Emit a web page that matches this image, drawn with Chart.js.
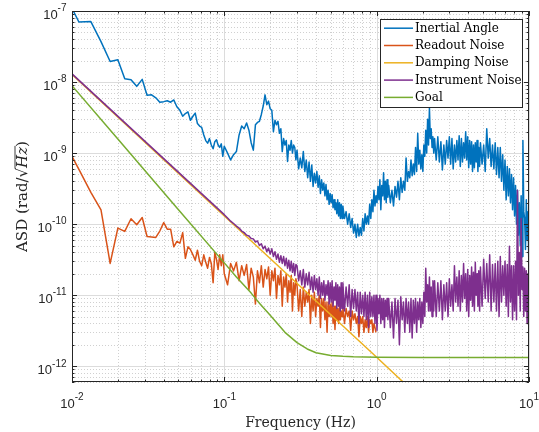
<!DOCTYPE html>
<html>
<head>
<meta charset="utf-8">
<script src="https://cdn.jsdelivr.net/npm/chart.js@4.4.1/dist/chart.umd.min.js"></script>
<style>
  html, body { margin: 0; padding: 0; background: #fff; }
</style>
</head>
<body>
<canvas id="cnv" width="539" height="432"></canvas>
<script>
const NANO = 1e-9
const PICO = 1e-12

// frequency bins (Hz) shared by the three measured spectra
const freq = [
  // below 0.1 Hz
  0.00888, 0.0111, 0.0133, 0.0155, 0.0178, 0.0200, 0.0222, 0.0244, 0.0266, 0.0289,
  0.0311, 0.0333, 0.0355, 0.0377, 0.0400, 0.0422, 0.0444, 0.0466, 0.0488, 0.0511,
  0.0533, 0.0555, 0.0577, 0.0599, 0.0622, 0.0644, 0.0666, 0.0688, 0.0710, 0.0733,
  0.0755, 0.0777, 0.0799, 0.0821, 0.0844, 0.0866, 0.0888, 0.0910, 0.0932, 0.0955,
  0.0977, 0.0999,
  // 0.1 - 0.3 Hz
  0.105, 0.110, 0.115, 0.120, 0.125, 0.130, 0.135, 0.140, 0.145, 0.150,
  0.155, 0.160, 0.165, 0.170, 0.175, 0.180, 0.185, 0.190, 0.195, 0.200,
  0.205, 0.210, 0.215, 0.220, 0.225, 0.230, 0.235, 0.240, 0.245, 0.250,
  0.255, 0.260, 0.265, 0.270, 0.275, 0.280, 0.285, 0.290, 0.295,
  // 0.3 - 0.6 Hz
  0.3000, 0.3075, 0.3150, 0.3225, 0.3300, 0.3375, 0.3450, 0.3525, 0.3600, 0.3675,
  0.3750, 0.3825, 0.3900, 0.3975, 0.4050, 0.4125, 0.4200, 0.4275, 0.4350, 0.4425,
  0.4500, 0.4575, 0.4650, 0.4725, 0.4800, 0.4875, 0.4950, 0.5025, 0.5100, 0.5175,
  0.5250, 0.5325, 0.5400, 0.5475, 0.5550, 0.5625, 0.5700, 0.5775, 0.5850, 0.5925,
  // 0.6 - 1.2 Hz
  0.600, 0.615, 0.630, 0.645, 0.660, 0.675, 0.690, 0.705, 0.720, 0.735,
  0.750, 0.765, 0.780, 0.795, 0.810, 0.825, 0.840, 0.855, 0.870, 0.885,
  0.900, 0.915, 0.930, 0.945, 0.960, 0.975, 0.990, 1.005, 1.020, 1.035,
  1.050, 1.065, 1.080, 1.095, 1.110, 1.125, 1.140, 1.155, 1.170, 1.185,
  // 1.2 - 2.4 Hz
  1.20, 1.23, 1.26, 1.29, 1.32, 1.35, 1.38, 1.41, 1.44, 1.47,
  1.50, 1.53, 1.56, 1.59, 1.62, 1.65, 1.68, 1.71, 1.74, 1.77,
  1.80, 1.83, 1.86, 1.89, 1.92, 1.95, 1.98, 2.01, 2.04, 2.07,
  2.10, 2.13, 2.16, 2.19, 2.22, 2.25, 2.28, 2.31, 2.34, 2.37,
  // 2.4 - 4.8 Hz
  2.40, 2.46, 2.52, 2.58, 2.64, 2.70, 2.76, 2.82, 2.88, 2.94,
  3.00, 3.06, 3.12, 3.18, 3.24, 3.30, 3.36, 3.42, 3.48, 3.54,
  3.60, 3.66, 3.72, 3.78, 3.84, 3.90, 3.96, 4.02, 4.08, 4.14,
  4.20, 4.26, 4.32, 4.38, 4.44, 4.50, 4.56, 4.62, 4.68, 4.74,
  // 4.8 - 10 Hz
  4.80, 4.92, 5.04, 5.16, 5.28, 5.40, 5.52, 5.64, 5.76, 5.88,
  6.00, 6.12, 6.24, 6.36, 6.48, 6.60, 6.72, 6.84, 6.96, 7.08,
  7.20, 7.32, 7.44, 7.56, 7.68, 7.80, 7.92, 8.04, 8.16, 8.28,
  8.40, 8.52, 8.64, 8.76, 8.88, 9.00, 9.12, 9.24, 9.36, 9.48,
  9.60, 9.72, 9.84, 9.96, 10.08
]

// nrad/sqrt(Hz)
const inertialAngle = [
  180, 70, 71, 37, 19.5, 20.6, 11.1, 10.8, 8.7, 10.9,
  6.5, 6.6, 6.0, 5.2, 5.3, 5.45, 5.2, 5.6, 4.5, 4.0,
  3.3, 3.6, 3.8, 2.9, 3.3, 3.65, 2.6, 2.4, 2.3, 1.8,
  1.5, 1.38, 1.6, 1.3, 1.15, 1.45, 1.54, 1.3, 1.2, 1.35,
  0.9, 1.25,

  1.0, 0.8, 0.95, 1.05, 1.8, 2.4, 2.2, 2.65, 2.1, 1.4,
  1.1, 2.5, 2.7, 2.8, 3.5, 4.6, 6.6, 4.8, 5.4, 4.2,
  4.0, 2.0, 2.9, 2.5, 2.8, 1.9, 2.2, 1.05, 1.6, 1.3,
  1.5, 0.76, 1.3, 1.1, 1.5, 1.0, 1.3, 1.2, 0.8,

  1.10, 0.60, 0.85, 0.62, 1.05, 0.55, 0.80, 0.45, 0.75, 0.40,
  0.68, 0.34, 0.52, 0.38, 0.55, 0.33, 0.48, 0.27, 0.42, 0.30,
  0.38, 0.25, 0.36, 0.22, 0.30, 0.19, 0.27, 0.20, 0.26, 0.17,
  0.22, 0.16, 0.20, 0.14, 0.22, 0.13, 0.20, 0.12, 0.19, 0.12,

  0.18, 0.12, 0.15, 0.10, 0.14, 0.09, 0.12, 0.075, 0.10, 0.065,
  0.10, 0.068, 0.09, 0.07, 0.12, 0.08, 0.14, 0.10, 0.13, 0.10,
  0.19, 0.12, 0.22, 0.15, 0.30, 0.18, 0.25, 0.20, 0.34, 0.22,
  0.42, 0.16, 0.35, 0.25, 0.53, 0.22, 0.40, 0.20, 0.42, 0.24,

  0.35, 0.20, 0.30, 0.18, 0.34, 0.24, 0.40, 0.22, 0.45, 0.28,
  0.40, 0.30, 0.85, 0.40, 0.55, 0.45, 0.80, 0.48, 0.70, 0.50,
  1.20, 0.55, 1.90, 0.70, 1.10, 0.60, 0.95, 0.55, 1.30, 0.90,
  2.10, 1.00, 3.00, 1.30, 4.30, 1.60, 2.20, 1.20, 1.70, 1.00,

  1.60, 0.80, 1.70, 0.75, 1.45, 0.58, 1.30, 0.70, 1.50, 0.85,
  1.70, 0.70, 1.60, 0.60, 1.30, 0.75, 1.50, 0.80, 1.75, 0.65,
  1.60, 0.75, 1.40, 0.85, 2.00, 0.80, 1.70, 0.62, 1.50, 0.70,
  1.45, 0.55, 1.30, 0.62, 1.40, 0.75, 1.50, 0.55, 1.20, 0.65,

  1.40, 0.70, 1.30, 0.55, 2.20, 0.85, 1.60, 0.65, 1.30, 0.60,
  1.40, 0.50, 1.20, 0.45, 1.20, 0.40, 0.95, 0.30, 0.80, 0.22,
  0.65, 0.25, 0.60, 0.20, 0.50, 0.16, 0.45, 0.13, 0.35, 0.10,
  0.30, 0.07, 0.20, 0.05, 0.25, 0.035, 1.50, 0.15, 0.12, 0.044,
  0.22, 0.06, 0.15, 0.034, 0.10
]

// prad/sqrt(Hz); hidden under the instrument noise above ~1 Hz
const readoutNoise = [
  1450, 590, 280, 159, 28, 88, 79, 119, 98, 124,
  67, 66, 65, 80, 105, 85, 85, 48, 57, 54,
  76, 33, 48, 44, 37, 31, 43, 30, 26, 37,
  29, 24, 34, 28, 15, 40, 32, 23, 37, 26,
  37, 20,

  14, 28, 22, 29, 16, 26, 19, 27, 12, 24,
  18, 7.5, 22, 15, 26, 13, 23, 17, 25, 10,
  22, 16, 24, 9, 19, 14, 22, 7, 18, 13,
  20, 8, 16, 11, 19, 6, 15, 10, 17,

  14, 6, 12, 5, 13, 7, 11, 8, 12, 4,
  10, 6, 11, 5, 9, 7, 10, 3.5, 9, 6,
  9, 4.5, 8, 3, 8, 5, 7.5, 5, 8, 4,
  7, 3.3, 7, 4.5, 6.5, 4, 7, 4.5, 6, 5,

  7, 4, 6.5, 5, 6, 3.2, 6, 4.5, 5.5, 4,
  5, 2.6, 5, 4, 5, 3, 4.5, 3.5, 5, 3,
  4.5, 4, 4.5, 3, 4, 3.5, 3
]

// prad/sqrt(Hz); a straight power law below 0.1 Hz
const instrumentNoise = [
  16500, null, null, null, null, null, null, null, null, null,
  null, null, null, null, null, null, null, null, null, null,
  null, null, null, null, null, null, null, null, null, null,
  null, null, null, null, null, null, null, null, null, null,
  null, 136,

  122, 110, 102, 94, 88, 80, 76, 70, 68, 63,
  62, 56, 58, 50, 53, 45, 49, 41, 46, 38,
  45, 35, 41, 32, 38, 29, 36, 28, 35, 26,
  33, 24, 31, 22, 30, 21, 28, 19, 27,

  26, 16, 22, 14, 23, 13, 20, 14, 21, 12,
  18, 11, 19, 12, 17, 10, 18, 9, 15, 10,
  16, 8.5, 14, 10, 16, 7.5, 15, 8, 16, 7,
  13, 8.5, 15, 6.5, 14, 7, 13, 6, 15, 6.5,

  15, 6, 13, 7, 14, 5, 12, 6.5, 12, 6,
  11, 4, 11, 5.5, 10, 5, 11, 4.5, 10, 3.5,
  11, 5, 9.5, 5, 10, 4, 10, 3.2, 9, 5.5,
  10, 4, 9, 4.5, 9, 3.5, 8.5, 5, 9, 4.5,

  9, 3.5, 8, 2.5, 9, 4, 8.5, 2.0, 9.5, 4.5,
  8, 3, 9, 4, 8, 3, 9, 2.5, 8.5, 4,
  9, 3, 8, 4.5, 9, 3.5, 8, 4, 11, 5,
  24, 8, 14, 6, 18, 6, 13, 5, 16, 6,

  16, 5, 15, 6, 16, 4.5, 14, 6, 15, 5,
  17, 7, 14, 6, 26, 8, 18, 7, 22, 6,
  19, 8, 28, 9, 20, 6, 23, 5, 19, 8.5,
  25, 7, 21, 6, 29, 10, 20, 7, 22, 6,

  25, 7, 32, 9, 28, 8, 37, 6, 27, 8,
  28, 6, 30, 5, 35, 8, 26, 10, 30, 7,
  27, 5, 49, 8, 26, 4.5, 26, 6, 30, 4.5,
  300, 10, 40, 6, 120, 12, 25, 5, 24, 6,
  22, 4, 20, 8, 12
]

// prad/sqrt(Hz)
const dampingFreq = [0.01, 0.1, 1, 1.6]
const dampingNoise = [12800, 130, 1.34, 0.52]

const goalFreq = [0.01, 0.02, 0.05, 0.1, 0.12, 0.15, 0.17, 0.2, 0.25, 0.3, 0.35, 0.4, 0.5, 0.6, 0.7, 1, 2, 10]
const goal = [8900, 1580, 160, 28.5, 18, 10.7, 7.7, 5.2, 3.0, 2.15, 1.75, 1.55, 1.42, 1.38, 1.36, 1.34, 1.33, 1.33]

const xTicks = [0.01, 0.1, 1, 10]
const xTickExp = ['-2', '-1', '0', '1']
const yTicks = [1e-12, 1e-11, 1e-10, 1e-9, 1e-8, 1e-7]
const yTickExp = ['-12', '-11', '-10', '-9', '-8', '-7']

const ink = '#262626'
const tickFont = '13px "Liberation Sans", Arial, sans-serif'
const expFont = '10px "Liberation Sans", Arial, sans-serif'
const texFont = '"DejaVu Serif", serif'

const pts = (xs, ys, unit) => xs.map((x, i) => ({ x, y: ys[i] == null ? null : ys[i] * unit })).filter(p => p.y != null)

// 1..9 x 10^n positions inside a log range, for grid lines and tick marks
const logSteps = (min, max) => {
  const out = []
  for (let e = Math.floor(Math.log10(min)); e <= Math.ceil(Math.log10(max)); e++) {
    for (let m = 1; m <= 9; m++) {
      const v = m * Math.pow(10, e)
      if (v >= min * 0.999 && v <= max * 1.001) out.push({ v, major: m === 1 })
    }
  }
  return out
}

const gridPlugin = {
  id: 'matlabGrid',
  beforeDatasetsDraw (chart) {
    const { ctx, chartArea: a, scales: { x, y } } = chart
    const xs = logSteps(x.min, x.max)
    const ys = logSteps(y.min, y.max)
    const lines = (major) => {
      ctx.beginPath()
      xs.filter(t => t.major === major).forEach(t => {
        const p = Math.round(x.getPixelForValue(t.v)) + 0.5
        ctx.moveTo(p, a.top); ctx.lineTo(p, a.bottom)
      })
      ys.filter(t => t.major === major).forEach(t => {
        const p = Math.round(y.getPixelForValue(t.v)) + 0.5
        ctx.moveTo(a.left, p); ctx.lineTo(a.right, p)
      })
      ctx.stroke()
    }
    ctx.save()
    ctx.lineWidth = 1
    ctx.strokeStyle = '#d0d0d0'
    ctx.setLineDash([1, 2])
    lines(false)
    ctx.setLineDash([])
    ctx.strokeStyle = '#dcdcdc'
    lines(true)
    ctx.restore()
  }
}

function drawPow (ctx, exp, x, y, align) {
  ctx.font = tickFont
  const wb = ctx.measureText('10').width
  ctx.font = expFont
  const we = ctx.measureText(exp).width
  const left = align === 'center' ? x - (wb + we) / 2 : x - wb - we
  ctx.font = tickFont
  ctx.fillText('10', left, y)
  ctx.font = expFont
  ctx.fillText(exp, left + wb, y - 7.5)
}

const framePlugin = {
  id: 'matlabFrame',
  afterDatasetsDraw (chart) {
    const { ctx, chartArea: a, scales: { x, y } } = chart
    ctx.save()
    // box and inward ticks on all four sides
    ctx.strokeStyle = ink
    ctx.lineWidth = 1
    ctx.beginPath()
    logSteps(x.min, x.max).forEach(t => {
      const p = Math.round(x.getPixelForValue(t.v)) + 0.5
      const len = t.major ? 5 : 2.5
      ctx.moveTo(p, a.bottom); ctx.lineTo(p, a.bottom - len)
      ctx.moveTo(p, a.top); ctx.lineTo(p, a.top + len)
    })
    logSteps(y.min, y.max).forEach(t => {
      const p = Math.round(y.getPixelForValue(t.v)) + 0.5
      const len = t.major ? 5 : 2.5
      ctx.moveTo(a.left, p); ctx.lineTo(a.left + len, p)
      ctx.moveTo(a.right, p); ctx.lineTo(a.right - len, p)
    })
    ctx.stroke()
    ctx.strokeRect(Math.round(a.left) + 0.5, Math.round(a.top) + 0.5,
      Math.round(a.right - a.left) - 1, Math.round(a.bottom - a.top) - 1)

    // tick labels
    ctx.fillStyle = ink
    ctx.textBaseline = 'alphabetic'
    ctx.textAlign = 'left'
    xTicks.forEach((v, i) => drawPow(ctx, xTickExp[i], x.getPixelForValue(v), a.bottom + 25.7, 'center'))
    yTicks.forEach((v, i) => drawPow(ctx, yTickExp[i], a.left - 5.5, y.getPixelForValue(v) + 7.8, 'right'))

    // axis titles
    ctx.font = '14px ' + texFont
    ctx.textAlign = 'center'
    ctx.fillText('Frequency (Hz)', (a.left + a.right) / 2, 426.5)

    ctx.translate(26.5, (a.top + a.bottom) / 2)
    ctx.rotate(-Math.PI / 2)
    ctx.textAlign = 'left'
    const regular = '15px ' + texFont
    const italic = 'italic 15px ' + texFont
    const parts = [['ASD (rad/', regular], ['\u221A', regular], ['Hz', italic], [')', regular]]
    const widths = parts.map(([s, f]) => { ctx.font = f; return ctx.measureText(s).width })
    let cx = -widths.reduce((s, w) => s + w, 0) / 2
    const pos = []
    parts.forEach(([s, f], i) => { ctx.font = f; pos.push(cx); ctx.fillText(s, cx, 0); cx += widths[i] })
    ctx.font = regular
    const top = -ctx.measureText('\u221A').actualBoundingBoxAscent + 0.5
    ctx.lineWidth = 0.9
    ctx.beginPath()
    ctx.moveTo(pos[1] + widths[1] - 0.8, top)
    ctx.lineTo(pos[2] + widths[2] + 1, top)
    ctx.stroke()
    ctx.restore()

    // legend, top right inside the axes
    ctx.save()
    const lw = 142, lh = 88
    const lx = Math.round(a.right - 7.5 - lw) + 0.5
    const ly = Math.round(a.top + 8) + 0.5
    ctx.fillStyle = '#fff'
    ctx.fillRect(lx, ly, lw, lh)
    ctx.strokeStyle = ink
    ctx.lineWidth = 1
    ctx.strokeRect(lx, ly, lw, lh)
    ctx.font = '12px ' + texFont
    ctx.textBaseline = 'middle'
    ctx.textAlign = 'left'
    chart.data.datasets.forEach((ds, i) => {
      const ry = ly + 8.7 + i * 17.3
      ctx.strokeStyle = ds.borderColor
      ctx.lineWidth = 1.5
      ctx.beginPath()
      ctx.moveTo(lx + 3.5, ry); ctx.lineTo(lx + 32.5, ry)
      ctx.stroke()
      ctx.fillStyle = '#000'
      ctx.fillText(ds.label, lx + 34.5, ry + 0.5)
    })
    ctx.restore()
  }
}

new Chart(document.getElementById('cnv'), {
  type: 'line',
  data: {
    datasets: [
      { label: 'Inertial Angle', data: pts(freq, inertialAngle, NANO), borderColor: '#0072BD', order: 5 },
      { label: 'Readout Noise', data: pts(freq, readoutNoise, PICO), borderColor: '#D95319', order: 4 },
      { label: 'Damping Noise', data: pts(dampingFreq, dampingNoise, PICO), borderColor: '#EDB120', order: 3 },
      { label: 'Instrument Noise', data: pts(freq, instrumentNoise, PICO), borderColor: '#7E2F8E', order: 2 },
      { label: 'Goal', data: pts(goalFreq, goal, PICO), borderColor: '#77AC30', order: 1 }
    ]
  },
  options: {
    responsive: false,
    animation: false,
    events: [],
    layout: { padding: { top: 11, right: 10, left: 0, bottom: 0 } },
    elements: {
      point: { radius: 0 },
      line: { borderWidth: 1.5, tension: 0, borderJoinStyle: 'round' }
    },
    plugins: { legend: { display: false }, tooltip: { enabled: false } },
    scales: {
      x: {
        type: 'logarithmic', min: 0.01, max: 10,
        ticks: { display: false }, grid: { display: false }, border: { display: false },
        afterFit: s => { s.height = 50 }
      },
      y: {
        type: 'logarithmic', min: 6.07e-13, max: 1e-7,
        ticks: { display: false }, grid: { display: false }, border: { display: false },
        afterFit: s => { s.width = 72 }
      }
    }
  },
  plugins: [gridPlugin, framePlugin]
})
</script>
</body>
</html>
